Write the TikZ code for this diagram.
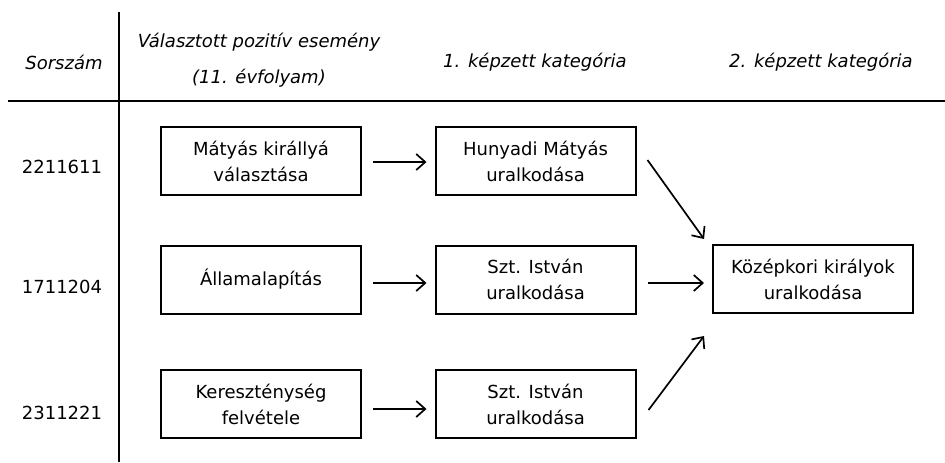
\documentclass[tikz,border=0pt]{standalone}
\usepackage{fontspec}
\setmainfont{DejaVu Sans}
\usetikzlibrary{arrows.meta}

\begin{document}
\begin{tikzpicture}[x=0.5pt, y=-0.5pt,
	box/.style={draw, line width=1pt, minimum width=100pt, minimum height=34pt, inner sep=0pt, align=center, font=\fontsize{9}{13}\selectfont},
	head/.style={align=center, font=\fontsize{9}{18}\selectfont\itshape},
	num/.style={font=\fontsize{9}{13}\selectfont},
	arr/.style={line width=0.85pt, -{Straight Barb[length=4.5pt,width=8pt]}, shorten <=5.5pt, shorten >=4pt}]
	\useasboundingbox (0,0) rectangle (945,462);
	\draw[line width=1.2pt] (8,101) -- (945,101);
	\draw[line width=1pt] (119,12) -- (119,462);
	\node[head] (hsor) at (64,62) {Sorszám};
	\node[head] (hval) at (259,60) {Választott pozitív esemény\\(11. évfolyam)};
	\node[head] (hkat1) at (535,62) {1. képzett kategória};
	\node[head] (hkat2) at (821,62) {2. képzett kategória};
	\node[num] (n1) at (62,167) {2211611};
	\node[num] (n2) at (62,287) {1711204};
	\node[num] (n3) at (62,413) {2311221};
	\node[box] (matyas) at (261,161) {Mátyás királlyá\\választása};
	\node[box] (allam) at (261,279.5) {Államalapítás};
	\node[box] (kereszt) at (261,404) {Kereszténység\\felvétele};
	\node[box] (hunyadi) at (535.5,161) {Hunyadi Mátyás\\uralkodása};
	\node[box] (istvan1) at (535.5,279.5) {Szt. István\\uralkodása};
	\node[box] (istvan2) at (535.5,404) {Szt. István\\uralkodása};
	\node[box] (kozep) at (813,279) {Középkori királyok\\uralkodása};
	\draw[arr] ([yshift=-0.5pt]matyas.east) -- ([yshift=-0.5pt]hunyadi.west);
	\draw[arr] ([yshift=-1.75pt]allam.east) -- ([yshift=-1.75pt]istvan1.west);
	\draw[arr] ([yshift=-2.5pt]kereszt.east) -- ([yshift=-2.5pt]istvan2.west);
	\draw[arr] ([yshift=-1.75pt]istvan1.east) -- ([yshift=-2pt]kozep.west);
	\draw[arr, shorten <=0pt, shorten >=0pt] ([shift={(5.5pt,0.5pt)}]hunyadi.east) -- ([shift={(-4pt,2.5pt)}]kozep.north west);
	\draw[arr, shorten <=0pt, shorten >=0pt] ([shift={(6pt,-3pt)}]istvan2.east) -- ([shift={(-4pt,-11pt)}]kozep.south west);
\end{tikzpicture}
\end{document}
